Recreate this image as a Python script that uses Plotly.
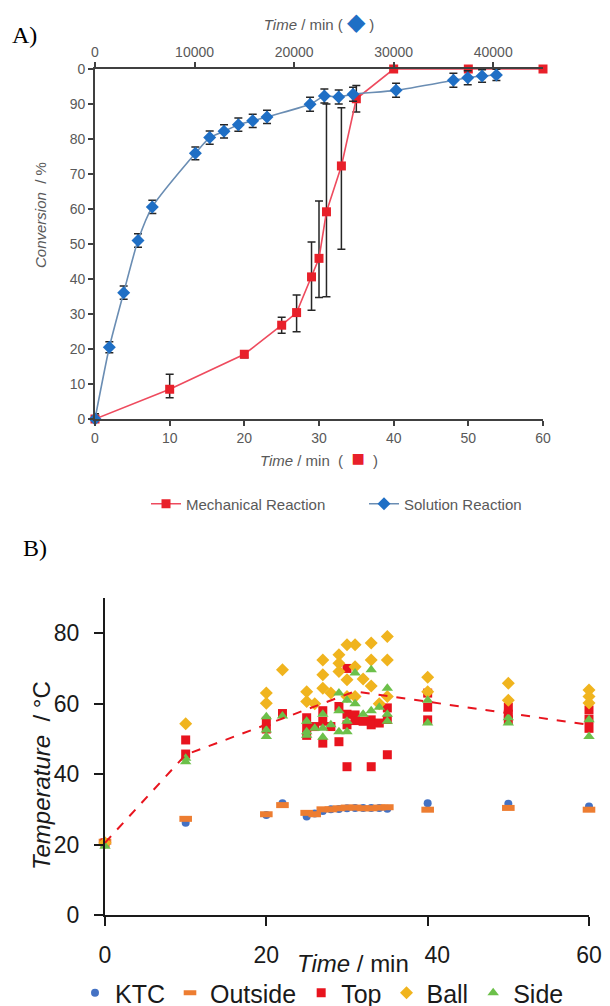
import plotly.graph_objects as go

# ---------------- Panel A data ----------------
mech_time = [0, 10, 20, 25, 27, 29, 30, 31, 33, 35, 40, 50, 60]
mech_conv = [0, 8.5, 18.5, 26.8, 30.4, 40.6, 45.9, 59.2, 72.3, 91.5, 100, 100, 100]
mech_err_plus = [0, 4.3, 1.0, 2.3, 5.0, 10.0, 16.4, 30.8, 16.6, 3.8, 0, 0, 0]
mech_err_minus = [0, 2.4, 1.0, 2.3, 5.5, 9.5, 11.2, 24.3, 23.8, 3.8, 0, 0, 0]

sol_time = [0, 1440, 2880, 4320, 5760, 10080, 11520, 12960, 14400, 15840, 17280,
            21600, 23040, 24480, 25920, 30240, 36000, 37440, 38880, 40320]
sol_conv = [0, 20.5, 36.1, 51.0, 60.6, 75.9, 80.4, 82.2, 84.1, 85.2, 86.3,
            89.9, 92.3, 92.0, 92.8, 93.9, 96.8, 97.5, 98.0, 98.3]
sol_err = [1.5, 1.6, 1.9, 1.9, 1.9, 1.8, 1.9, 1.9, 1.9, 1.9, 1.9,
           2.0, 2.0, 2.0, 2.0, 2.0, 2.0, 2.0, 1.8, 1.6]

conv_ticks = [0, 10, 20, 30, 40, 50, 60, 70, 80, 90, 100]
conv_ticktext = ["0", "10", "20", "30", "40", "50", "60", "70", "80", "90", "0"]
mech_xticks = [0, 10, 20, 30, 40, 50, 60]
sol_xticks = [0, 10000, 20000, 30000, 40000]

# ---------------- Panel B data ----------------
ktc_time = [0, 10, 20, 22, 25, 26, 27, 28, 29, 30, 31, 32, 33, 34, 35, 40, 50, 60]
ktc_temp = [20.5, 26.2, 28.4, 31.7, 28.0, 28.8, 29.5, 30.0, 30.1, 30.3, 30.4, 30.4,
            30.4, 30.4, 30.2, 31.7, 31.6, 30.8]

out_time = [0, 10, 20, 22, 25, 26, 27, 28, 29, 30, 31, 32, 33, 34, 35, 40, 50, 60]
out_temp = [20.8, 27.3, 28.6, 31.2, 29.0, 28.6, 30.0, 30.0, 30.3, 30.5, 30.5, 30.3,
            30.3, 30.5, 30.6, 29.9, 30.4, 29.9]

top_time = [0, 10, 10, 20, 20, 22, 25, 25, 25, 26, 27, 27, 27, 28, 29, 29,
            30, 30, 30, 30, 31, 31, 32, 33, 33, 33, 34, 35, 35, 35,
            40, 40, 40, 50, 50, 50, 60, 60, 60]
top_temp = [20.5, 49.7, 45.7, 55.0, 52.8, 57.2, 56.0, 53.2, 51.0, 53.5, 58.0, 55.0, 48.8, 53.5, 59.2, 49.2,
            70.0, 57.0, 54.0, 42.1, 56.8, 55.2, 55.0, 55.4, 54.0, 42.1, 54.5, 58.8, 55.5, 45.5,
            63.0, 59.0, 55.4, 59.0, 57.0, 55.4, 58.2, 55.5, 53.0]

ball_time = [0, 10, 20, 20, 22, 25, 25, 26, 27, 27, 27, 28, 29, 29, 29, 30, 30, 30,
             31, 31, 31, 32, 33, 33, 33, 34, 35, 35, 35, 40, 40, 50, 50, 60, 60, 60]
ball_temp = [20.5, 54.3, 63.0, 60.1, 69.6, 63.4, 60.6, 60.0, 72.4, 68.2, 64.4, 63.0, 73.9, 71.5, 69.1,
             76.7, 66.8, 62.0, 76.7, 70.5, 62.0, 67.0, 77.2, 72.4, 65.0, 60.0, 79.1, 72.4, 62.0,
             67.5, 63.4, 65.8, 61.0, 63.9, 62.0, 60.2]

side_time = [0, 10, 10, 20, 20, 20, 22, 25, 25, 25, 26, 27, 27, 27, 28, 29, 29, 29, 30, 30, 30,
             31, 31, 32, 33, 33, 34, 35, 35, 35, 40, 40, 50, 50, 60, 60]
side_temp = [19.5, 43.5, 44.5, 56.3, 52.5, 50.7, 56.5, 55.0, 52.0, 51.0, 53.0, 57.0, 53.0, 50.5, 54.0,
             63.0, 58.0, 52.0, 61.0, 55.0, 52.0, 68.7, 60.0, 57.0, 69.6, 58.0, 59.0, 64.4, 57.0, 55.0,
             61.0, 54.5, 56.0, 54.5, 55.4, 50.7]

trend_time = [0, 10, 31, 60]
trend_temp = [20.5, 45.5, 63.5, 54.0]

temp_ticks = [0, 20, 40, 60, 80]
time_ticks_b = [0, 20, 40, 60]
time_ticktext_b = ["0", "20", "\u00a0\u00a0\u00a040", "60"]

# ---------------- layout helpers ----------------
# the page adds an 8 px body margin, so the figure is drawn 8 px smaller and
# positions are given in window pixels minus that offset
OFF = 8
W, H = 610 - OFF, 1006 - OFF
def fx(px):
    return (px - OFF) / W
def fy(py):
    return 1 - (py - OFF) / H

GRAY = "#595959"
AX = "#404040"
DARK = "#1a1a1a"
FONT = "Liberation Sans, Arial, sans-serif"

fig = go.Figure()

# Panel A traces
fig.add_trace(go.Scatter(
    x=mech_time, y=mech_conv, name="Mechanical Reaction", mode="lines+markers",
    xaxis="x", yaxis="y", legend="legend",
    line=dict(color="#EE4B5E", width=1.6),
    marker=dict(symbol="square", size=9, color="#E8202A"),
    error_y=dict(type="data", array=mech_err_plus, arrayminus=mech_err_minus,
                 color="#262626", thickness=1.5, width=4),
    cliponaxis=False,
))
fig.add_trace(go.Scatter(
    x=sol_time, y=sol_conv, name="Solution Reaction", mode="lines+markers",
    xaxis="x2", yaxis="y", legend="legend",
    line=dict(color="#6A8DB3", width=1.6, shape="spline", smoothing=0.6),
    marker=dict(symbol="diamond", size=10, color="#1F6FC5"),
    error_y=dict(type="data", array=sol_err, color="#262626", thickness=1.5, width=4),
    cliponaxis=False,
))

# Panel B traces
fig.add_trace(go.Scatter(
    x=ktc_time, y=ktc_temp, name="KTC", mode="markers", xaxis="x3", yaxis="y3",
    legend="legend2", marker=dict(symbol="circle", size=8, color="#4472C4"), cliponaxis=False))
fig.add_trace(go.Scatter(
    x=out_time, y=out_temp, name="Outside", mode="markers", xaxis="x3", yaxis="y3",
    legend="legend2",
    marker=dict(symbol="line-ew", size=9, color="#ED7D31", line=dict(color="#ED7D31", width=6)),
    cliponaxis=False))
fig.add_trace(go.Scatter(
    x=top_time, y=top_temp, name="Top", mode="markers", xaxis="x3", yaxis="y3",
    legend="legend2", marker=dict(symbol="square", size=9, color="#E8141E"), cliponaxis=False))
fig.add_trace(go.Scatter(
    x=ball_time, y=ball_temp, name="Ball", mode="markers", xaxis="x3", yaxis="y3",
    legend="legend2", marker=dict(symbol="diamond", size=10, color="#F0B41E"), cliponaxis=False))
fig.add_trace(go.Scatter(
    x=side_time, y=side_temp, name="Side", mode="markers", xaxis="x3", yaxis="y3",
    legend="legend2", marker=dict(symbol="triangle-up", size=10, color="#6CC04A"), cliponaxis=False))
fig.add_trace(go.Scatter(
    x=trend_time, y=trend_temp, mode="lines", xaxis="x3", yaxis="y3", showlegend=False,
    line=dict(color="#E8141E", width=2, dash="dash"), cliponaxis=False))

fig.update_layout(
    width=W, height=H,
    margin=dict(l=0, r=0, t=0, b=0, autoexpand=False),
    paper_bgcolor="white", plot_bgcolor="white",
    font=dict(family=FONT, color=GRAY),
    xaxis=dict(
        domain=[fx(95), fx(543)], anchor="y", range=[0, 60], automargin=False,
        tickvals=mech_xticks, showgrid=False, zeroline=False,
        showline=True, linecolor=AX, linewidth=1.8,
        ticks="outside", ticklen=5, tickwidth=1.5, tickcolor=AX,
        tickfont=dict(size=14, color=GRAY),
        title=dict(text="<i>Time</i> / min  (  <span style='color:#E8202A;font-size:22px'>■</span>  )",
                   font=dict(size=15, color=GRAY), standoff=10),
    ),
    xaxis2=dict(
        overlaying="x", side="top", anchor="y", range=[0, 45000], automargin=False,
        tickvals=sol_xticks, tickformat="d", showgrid=False, zeroline=False,
        showline=True, linecolor=AX, linewidth=1.8,
        ticks="outside", ticklen=5, tickwidth=1.5, tickcolor=AX,
        tickfont=dict(size=14, color=GRAY),
        title=dict(text="<i>Time</i> / min ( <span style='color:#1F6FC5;font-size:24px'>◆</span> )",
                   font=dict(size=15, color=GRAY), standoff=14),
    ),
    yaxis=dict(
        domain=[fy(419), fy(69)], anchor="x", range=[0, 100], automargin=False,
        tickvals=conv_ticks, ticktext=conv_ticktext, showgrid=False, zeroline=False,
        showline=True, linecolor=AX, linewidth=1.8,
        ticks="outside", ticklen=5, tickwidth=1.5, tickcolor=AX,
        tickfont=dict(size=14, color=GRAY),
    ),
    xaxis3=dict(
        domain=[fx(105), fx(589)], anchor="y3", range=[0, 60], automargin=False,
        tickvals=time_ticks_b, ticktext=time_ticktext_b, showgrid=False, zeroline=False,
        showline=True, linecolor=DARK, linewidth=2,
        ticks="outside", ticklen=9, tickwidth=2, tickcolor=DARK,
        tickfont=dict(size=23, color=DARK), ticklabelstandoff=9,
    ),
    yaxis3=dict(
        domain=[fy(915), fy(598)], anchor="x3", range=[0, 90], automargin=False,
        tickvals=temp_ticks, showgrid=False, zeroline=False,
        showline=True, linecolor=DARK, linewidth=2,
        ticks="outside", ticklen=9, tickwidth=2, tickcolor=DARK,
        tickfont=dict(size=23, color=DARK), ticklabelstandoff=10,
    ),
    legend=dict(
        x=fx(146), y=fy(504), xanchor="left", yanchor="middle", orientation="h",
        font=dict(size=15, color=GRAY), bgcolor="rgba(0,0,0,0)", traceorder="normal",
        entrywidth=173,
    ),
    legend2=dict(
        x=fx(75), y=fy(993), xanchor="left", yanchor="middle", orientation="h",
        font=dict(size=25, color=DARK), bgcolor="rgba(0,0,0,0)", traceorder="normal",
        itemwidth=30,
    ),
    annotations=[
        dict(text="A)", x=fx(10), y=fy(35), xref="paper", yref="paper", xanchor="left",
             yanchor="middle", showarrow=False,
             font=dict(family="Liberation Serif, Times New Roman, serif", size=24, color="black")),
        dict(text="B)", x=fx(21), y=fy(548), xref="paper", yref="paper", xanchor="left",
             yanchor="middle", showarrow=False,
             font=dict(family="Liberation Serif, Times New Roman, serif", size=24, color="black")),
        dict(text="<i>Conversion</i>  / %", x=fx(40), y=fy(215), xref="paper", yref="paper",
             textangle=-90, showarrow=False, xanchor="center", yanchor="middle",
             font=dict(size=15, color=GRAY)),
        dict(text="<i>Temperature</i>  / °C", x=fx(41), y=fy(776), xref="paper", yref="paper",
             textangle=-90, showarrow=False, xanchor="center", yanchor="middle",
             font=dict(size=24, color=DARK)),
        dict(text="<i>Time</i> / min", x=fx(353), y=fy(963), xref="paper", yref="paper",
             showarrow=False, xanchor="center", yanchor="middle",
             font=dict(size=24, color=DARK)),
    ],
)

fig.write_html("out.html")
